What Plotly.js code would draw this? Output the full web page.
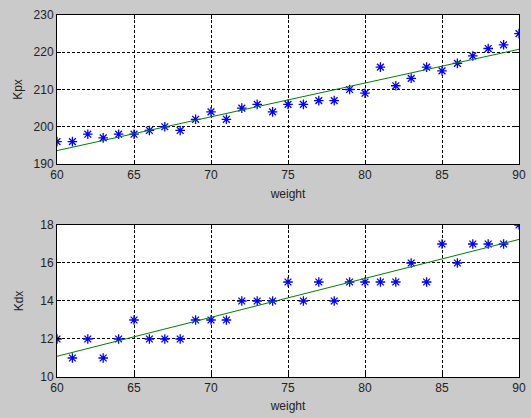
<!DOCTYPE html>
<html><head><meta charset="utf-8">
<script src="https://cdn.plot.ly/plotly-3.0.1.min.js"></script>
<style>html,body{margin:0;padding:0;background:#cacaca;}#g{width:531px;height:418px;}</style>
</head><body><div id="g"></div>
<script>
const weight = [60,61,62,63,64,65,66,67,68,69,70,71,72,73,74,75,76,77,78,79,80,81,82,83,84,85,86,87,88,89,90];
const kpx = [196,196,198,197,198,198,199,200,199,202,204,202,205,206,204,206,206,207,207,210,209,216,211,213,216,215,217,219,221,222,225];
const kdx = [12,11,12,11,12,13,12,12,12,13,13,13,14,14,14,15,14,15,14,15,15,15,15,16,15,17,16,17,17,17,18];
const fitX = [60,90];
const fitKpx = [193.6,220.8];
const fitKdx = [11.09,17.24];

const mk = {symbol:'asterisk-open', size:8, color:'#0000ff', line:{color:'#0000ff', width:1.3}};
const traces = [
  {x:weight, y:kpx, type:'scatter', mode:'markers', marker:mk, xaxis:'x', yaxis:'y'},
  {x:fitX, y:fitKpx, type:'scatter', mode:'lines', line:{color:'#008000', width:1}, xaxis:'x', yaxis:'y'},
  {x:weight, y:kdx, type:'scatter', mode:'markers', marker:mk, xaxis:'x2', yaxis:'y2'},
  {x:fitX, y:fitKdx, type:'scatter', mode:'lines', line:{color:'#008000', width:1}, xaxis:'x2', yaxis:'y2'}
];
const font = {family:'Liberation Sans, Arial, sans-serif', size:12, color:'#222'};
const ax = {showline:true, mirror:'ticks', linecolor:'#000', linewidth:1, ticks:'inside', ticklen:4, tickcolor:'#000',
  showgrid:true, gridcolor:'#000', gridwidth:1, griddash:'3px,2px', zeroline:false, tickfont:font, fixedrange:true};
const layout = {
  width:531, height:418, showlegend:false,
  paper_bgcolor:'#cacaca', plot_bgcolor:'#ffffff',
  margin:{l:57, r:12, t:15, b:41},
  font:font,
  xaxis:Object.assign({}, ax, {range:[60,90], dtick:5, domain:[0,1], anchor:'y', title:{text:'weight', font:font, standoff:8}}),
  yaxis:Object.assign({}, ax, {range:[190,230], dtick:10, domain:[0.5884,1], anchor:'x', title:{text:'Kpx', font:font, standoff:8}}),
  xaxis2:Object.assign({}, ax, {range:[60,90], dtick:5, domain:[0,1], anchor:'y2', title:{text:'weight', font:font, standoff:7}}),
  yaxis2:Object.assign({}, ax, {range:[10,18], dtick:2, domain:[0,0.4199], anchor:'x2', title:{text:'Kdx', font:font, standoff:14}})
};
Plotly.newPlot('g', traces, layout, {displayModeBar:false, staticPlot:true});
</script></body></html>
